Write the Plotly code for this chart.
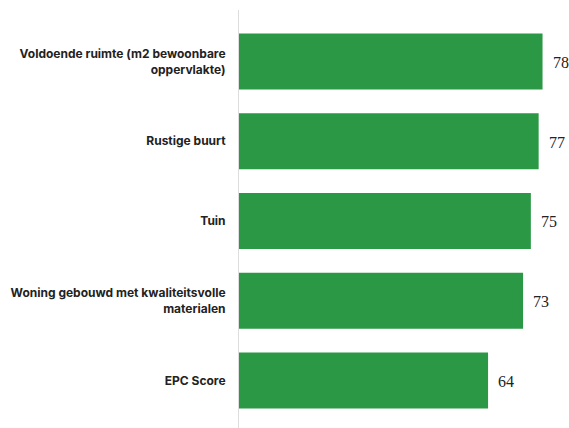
import plotly.graph_objects as go

categories = [
    "Voldoende ruimte (m2 bewoonbare<br>oppervlakte)",
    "Rustige buurt",
    "Tuin",
    "Woning gebouwd met kwaliteitsvolle<br>materialen",
    "EPC Score",
]
values = [78, 77, 75, 73, 64]

GREEN = "#2b9846"

fig = go.Figure(
    go.Bar(
        x=values,
        y=categories,
        orientation="h",
        marker=dict(color=GREEN, line=dict(width=0)),
        hoverinfo="skip",
    )
)

for c, v in zip(categories, values):
    fig.add_annotation(
        x=v, y=c, text=str(v), showarrow=False,
        xanchor="left", xshift=8, yshift=-1,
        font=dict(family="Liberation Serif", size=16, color="#222222"),
    )

fig.update_layout(
    width=569,
    height=428,
    margin=dict(l=239, r=0, t=10, b=0, autoexpand=False),
    paper_bgcolor="white",
    plot_bgcolor="white",
    bargap=0.3,
    showlegend=False,
    xaxis=dict(range=[0, 84.8], visible=False),
    yaxis=dict(
        range=[4.596, -0.646],
        showline=True,
        linecolor="#dddddd",
        linewidth=1,
        showgrid=False,
        zeroline=False,
        ticks="outside",
        ticklen=10,
        tickcolor="rgba(0,0,0,0)",
        automargin=False,
        tickfont=dict(family="Inter", size=12, color="#222222", weight=700),
    ),
)

fig.write_html(
    "out.html",
    config={"displayModeBar": False, "staticPlot": True},
    post_script="document.body.style.margin='0';document.body.style.overflow='hidden';",
)
